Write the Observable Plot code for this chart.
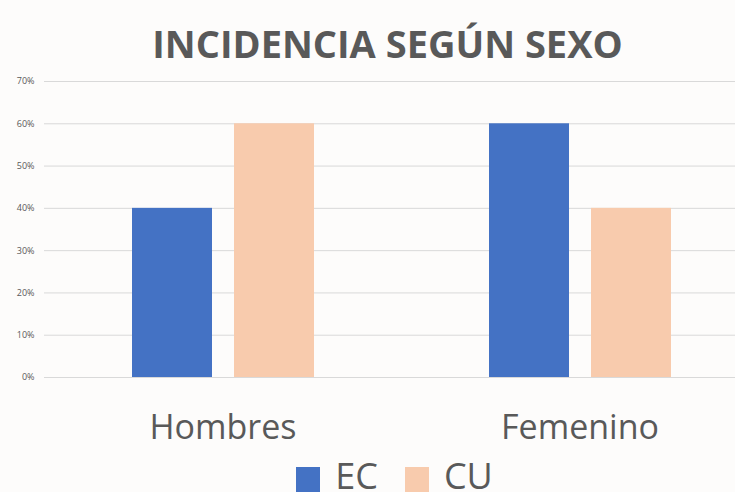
<!DOCTYPE html>
<html>
<head>
<meta charset="utf-8">
<script src="https://cdn.jsdelivr.net/npm/d3@7"></script>
<script src="https://cdn.jsdelivr.net/npm/@observablehq/plot@0.6"></script>
<style>
  html, body { margin: 0; padding: 0; background: #fdfcfb; }
  body { width: 735px; height: 492px; overflow: hidden; position: relative; font-family: "Open Sans", sans-serif; }
  #title { position: absolute; left: 20px; top: 0; width: 735px; text-align: center; font-weight: 700; font-size: 38px; color: #595959; line-height: 1; padding-top: 24px; }
  #chart { position: absolute; left: 0; top: 70px; }
  #legend { position: absolute; left: 0; top: 461px; width: 735px; display: flex; justify-content: center; gap: 27px; padding-left: 54px; box-sizing: border-box; }
  .item { display: flex; align-items: flex-start; color: #595959; font-size: 36px; line-height: 0.84; }
  .sw { width: 24px; height: 25px; margin-top: 6px; margin-right: 15px; }
</style>
</head>
<body>
<div id="title">INCIDENCIA SEGÚN SEXO</div>
<div id="chart"></div>
<div id="legend"></div>
<script>
const categories = ["Hombres", "Femenino"];
const series = ["EC", "CU"];
const ecValues = [0.4, 0.6];
const cuValues = [0.6, 0.4];
const colors = ["#4472c4", "#f8cbad"];
const yTicks = [0, 0.1, 0.2, 0.3, 0.4, 0.5, 0.6, 0.7];

const data = [];
categories.forEach((c, i) => {
  data.push({cat: c, series: "EC", value: ecValues[i]});
  data.push({cat: c, series: "CU", value: cuValues[i]});
});

const chart = Plot.plot({
  width: 735,
  height: 385,
  marginLeft: 45,
  marginRight: 0,
  marginTop: 11,
  marginBottom: 78,
  style: {background: "transparent", fontFamily: "Open Sans, sans-serif", overflow: "hidden"},
  fx: {domain: categories, range: [44, 758], paddingInner: 0, paddingOuter: 0, label: null},
  x: {domain: series, paddingInner: 0.216, paddingOuter: 0.858, axis: null},
  y: {domain: [0, 0.7], label: null},
  color: {domain: series, range: colors},
  marks: [
    Plot.ruleY(yTicks, {stroke: "#d9d9d9", strokeWidth: 1}),
    Plot.barY(data, {fx: "cat", x: "series", y: "value", fill: "series"}),
    Plot.axisFx({anchor: "bottom", tickSize: 0, tickPadding: 37, fontSize: 34, fill: "#595959", label: null}),
    Plot.axisY({ticks: yTicks, tickSize: 0, tickPadding: 10, fontSize: 9, fill: "#595959", tickFormat: d3.format(".0%"), label: null})
  ]
});
document.getElementById("chart").appendChild(chart);

const legend = document.getElementById("legend");
series.forEach((s, i) => {
  const item = document.createElement("div");
  item.className = "item";
  const sw = document.createElement("div");
  sw.className = "sw";
  sw.style.background = colors[i];
  const t = document.createElement("span");
  t.textContent = s;
  item.appendChild(sw);
  item.appendChild(t);
  legend.appendChild(item);
});
</script>
</body>
</html>
